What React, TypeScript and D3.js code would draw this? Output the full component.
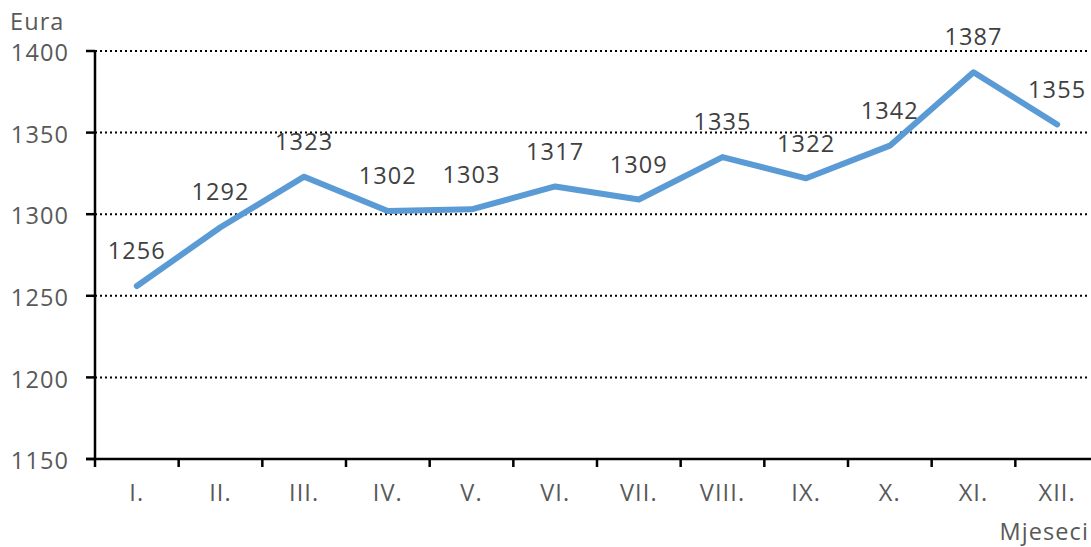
import React from "react";
import * as d3 from "d3";

const months = ["I.", "II.", "III.", "IV.", "V.", "VI.", "VII.", "VIII.", "IX.", "X.", "XI.", "XII."];
const values = [1256, 1292, 1323, 1302, 1303, 1317, 1309, 1335, 1322, 1342, 1387, 1355];
const yTicks = [1150, 1200, 1250, 1300, 1350, 1400];

const W = 1091;
const H = 547;
const left = 95;
const right = 1099;
const top = 51;
const bottom = 459;
const font = "'Open Sans', 'Liberation Sans', sans-serif";
const fs = 23.5;
const ls = 1.1;

export default function App() {
  const x = d3.scaleBand<string>().domain(months).range([left, right]);
  const y = d3.scaleLinear().domain([1150, 1400]).range([bottom, top]);
  const line = d3
    .line<number>()
    .x((_, i) => (x(months[i]) as number) + x.bandwidth() / 2)
    .y((d) => y(d));

  return (
    <svg width={W} height={H} style={{ position: "absolute", left: 0, top: 0, background: "#fff" }}>
      {yTicks.filter((t) => t > 1150).map((t) => (
        <line key={"g" + t} x1={left} x2={W - 2} y1={y(t)} y2={y(t)} stroke="#000" strokeWidth={2} strokeDasharray="2,3" />
      ))}
      <line x1={left} x2={left} y1={top} y2={bottom + 1} stroke="#000" strokeWidth={2.5} />
      <line x1={left - 9} x2={W} y1={bottom} y2={bottom} stroke="#000" strokeWidth={2.5} />
      {yTicks.map((t) => (
        <g key={"y" + t}>
          <line x1={left - 9} x2={left} y1={y(t)} y2={y(t)} stroke="#000" strokeWidth={2.5} />
          <text x={69} y={y(t) + 2} dy="0.35em" textAnchor="end" fontFamily={font} fontSize={fs} letterSpacing={ls} fill="#595959">
            {t}
          </text>
        </g>
      ))}
      {months.map((m, i) => (
        <g key={m}>
          <line x1={(x(m) as number)} x2={(x(m) as number)} y1={bottom} y2={bottom + 8} stroke="#000" strokeWidth={2.5} />
          <text x={(x(m) as number) + x.bandwidth() / 2} y={501} textAnchor="middle" fontFamily={font} fontSize={fs} letterSpacing={ls} fill="#595959">
            {m}
          </text>
        </g>
      ))}
      <path d={line(values) || ""} fill="none" stroke="#5B9BD5" strokeWidth={6} strokeLinecap="round" strokeLinejoin="round" />
      {values.map((v, i) => (
        <text
          key={"l" + i}
          x={(x(months[i]) as number) + x.bandwidth() / 2}
          y={y(v) - 35}
          dy="0.35em"
          textAnchor="middle"
          fontFamily={font}
          fontSize={fs}
          letterSpacing={ls}
          fill="#404040"
        >
          {v}
        </text>
      ))}
      <text x={10} y={30} fontFamily={font} fontSize={fs} letterSpacing={ls} fill="#595959">Eura</text>
      <text x={1089} y={540} textAnchor="end" fontFamily={font} fontSize={fs} letterSpacing={ls} fill="#595959">Mjeseci</text>
    </svg>
  );
}
